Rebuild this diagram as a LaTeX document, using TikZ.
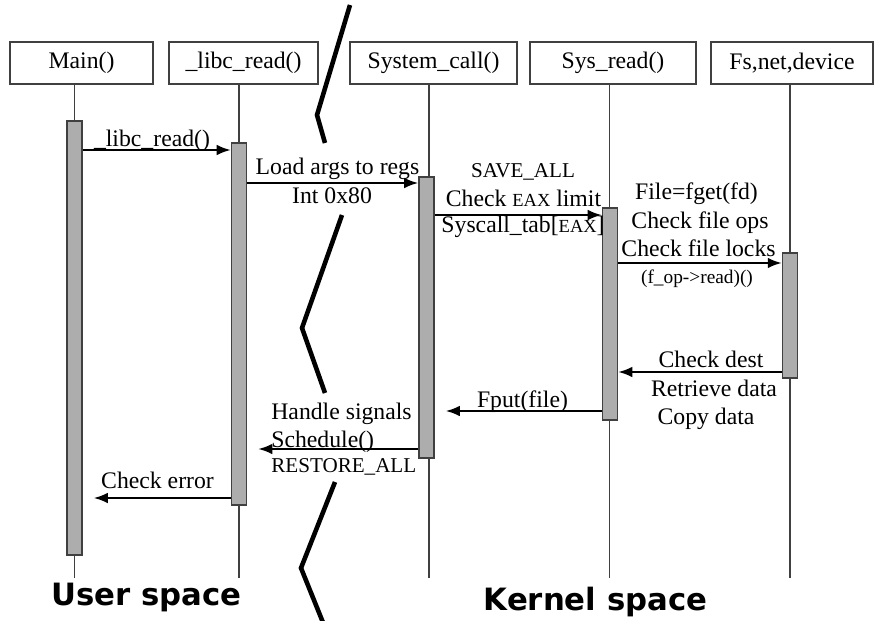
\documentclass[tikz,border=0pt]{standalone}
\usepackage{fontspec}
\setmainfont{Liberation Serif}
\setsansfont{DejaVu Sans}
\usetikzlibrary{arrows.meta}

\begin{document}
\begin{tikzpicture}[
    head/.style={draw=black!75, line width=0.9pt, minimum height=0.84cm, inner sep=0pt, font=\fontsize{13.5}{16}\selectfont},
    bar/.style={draw=black!75, line width=0.8pt, fill=black!32, minimum width=0.3cm, inner sep=0pt},
    life/.style={black!75, line width=0.6pt},
    msg/.style={-{Latex[length=8pt,width=6pt]}, line width=1.2pt},
    back/.style={msg, shorten >=0.22cm},
    lbl/.style={inner sep=0pt, anchor=base, font=\fontsize{13.5}{16}\selectfont},
    caps/.style={lbl, font=\fontsize{12}{14}\selectfont},
    brk/.style={line width=2.6pt},
    side/.style={inner sep=0pt, anchor=base, font=\fontsize{17.5}{20}\sffamily\bfseries}
]

\useasboundingbox (0,0) rectangle (17.5,-12.42);

% Headers
\node[head, minimum width=2.86cm] (main) at (1.63,-1.26) {Main()};
\node[head, minimum width=2.98cm] (libc) at (4.87,-1.26) {\_libc\_read()};
\node[head, minimum width=3.34cm] (call) at (8.67,-1.26) {System\_call()};
\node[head, minimum width=3.32cm] (read) at (12.26,-1.26) {Sys\_read()};
\node[head, minimum width=3.24cm] (fs) at (15.84,-1.26) {Fs,net,device};

% Lifelines
\coordinate (mainend) at (1.49,-11.56);
\coordinate (libcend) at (4.78,-11.56);
\coordinate (callend) at (8.58,-11.56);
\coordinate (readend) at (12.19,-11.56);
\coordinate (fsend) at (15.80,-11.56);
\draw[life] (main.south -| mainend) -- (mainend);
\draw[life] (libc.south -| libcend) -- (libcend);
\draw[life] (call.south -| callend) -- (callend);
\draw[life] (read.south -| readend) -- (readend);
\draw[life] (fs.south -| fsend) -- (fsend);

% Activation bars
\node[bar, minimum height=8.68cm] (mainbar) at (1.49,-6.76) {};
\node[bar, minimum height=7.24cm] (libcbar) at (4.78,-6.48) {};
\node[bar, minimum height=5.62cm] (callbar) at (8.53,-6.35) {};
\node[bar, minimum height=4.24cm] (readbar) at (12.20,-6.28) {};
\node[bar, minimum height=2.50cm] (fsbar) at (15.80,-6.31) {};

% Message levels
\coordinate (y1) at (0,-3.00);
\coordinate (y2) at (0,-3.66);
\coordinate (y3) at (0,-4.30);
\coordinate (y4) at (0,-5.26);
\coordinate (y5) at (0,-7.44);
\coordinate (y6) at (0,-8.22);
\coordinate (y7) at (0,-8.98);
\coordinate (y8) at (0,-9.96);

% Calls
\draw[msg] (mainbar.east |- y1) -- (libcbar.west |- y1);
\draw[msg] (libcbar.east |- y2) -- (callbar.west |- y2);
\draw[msg] (callbar.east |- y3) -- (readbar.west |- y3);
\draw[msg] (readbar.east |- y4) -- (fsbar.west |- y4);

% Returns
\draw[msg] (fsbar.west |- y5) -- (readbar.east |- y5);
\draw[back] (readbar.west |- y6) -- (callbar.east |- y6);
\draw[back] (callbar.west |- y7) -- (libcbar.east |- y7);
\draw[back] (libcbar.west |- y8) -- (mainbar.east |- y8);

% Labels
\node[lbl] (t1) at (3.04,-2.94) {\_libc\_read()};
\node[lbl] (t2a) at (6.75,-3.50) {Load args to regs};
\node[lbl] (t2b) at (6.64,-4.08) {Int 0x80};
\node[caps] (t3a) at (10.46,-3.56) {SAVE\_ALL};
\node[lbl] (t3b) at (10.47,-4.14) {Check {\fontsize{10.5}{12}\selectfont EAX} limit};
\node[lbl] (t3c) at (10.46,-4.66) {Syscall\_tab[{\fontsize{10.5}{12}\selectfont EAX}]};
\node[lbl] (t4a) at (13.93,-4.00) {File=fget(fd)};
\node[lbl] (t4b) at (14.00,-4.57) {Check file ops};
\node[lbl] (t4c) at (13.97,-5.13) {Check file locks};
\node[lbl, font=\fontsize{11}{13}\selectfont] (t4d) at (13.94,-5.67) {(f\_op->read)()};
\node[lbl] (t5a) at (14.22,-7.34) {Check dest};
\node[lbl] (t5b) at (14.28,-7.92) {Retrieve data};
\node[lbl] (t5c) at (14.12,-8.48) {Copy data};
\node[lbl] (t6) at (10.45,-8.14) {Fput(file)};
\node[lbl, anchor=base west] (t7a) at (5.42,-8.38) {Handle signals};
\node[lbl, anchor=base west] (t7b) at (5.42,-8.94) {Schedule()};
\node[caps, anchor=base west] (t7c) at (5.42,-9.44) {RESTORE\_ALL};
\node[lbl] (t8) at (3.15,-9.76) {Check error};

% Break between user and kernel space
\draw[brk] (7.00,-0.10) -- (6.34,-2.30) -- (6.50,-2.86);
\draw[brk] (6.84,-4.30) -- (6.04,-6.56) -- (6.50,-7.86);
\draw[brk] (6.70,-9.64) -- (6.02,-11.36) -- (6.48,-12.50);

% Space names
\node[side] (user) at (2.93,-12.10) {User space};
\node[side] (kernel) at (11.91,-12.20) {Kernel space};

\end{tikzpicture}
\end{document}
